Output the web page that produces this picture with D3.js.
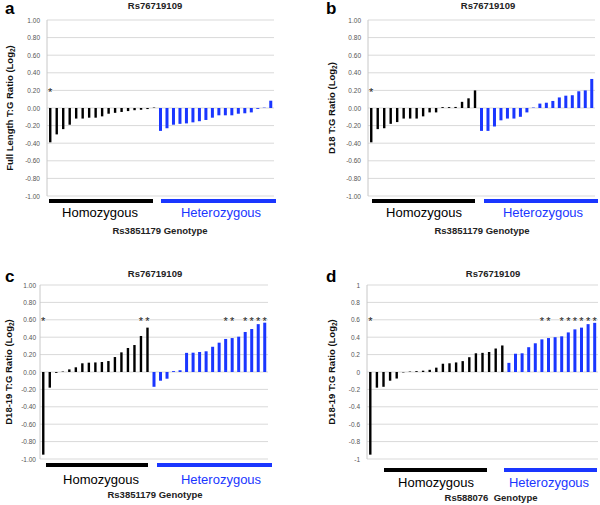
<!DOCTYPE html>
<html><head><meta charset="utf-8">
<script src="https://cdn.jsdelivr.net/npm/d3@7"></script>
<style>body{margin:0;background:#fff}svg{display:block}</style>
</head><body>
<script>
// ---------- data ----------
const chartTitle = "Rs76719109";
const tickValues = [1, 0.8, 0.6, 0.4, 0.2, 0, -0.2, -0.4, -0.6, -0.8, -1];
const tickLabelsFixed = ["1.00","0.80","0.60","0.40","0.20","0.00","-0.20","-0.40","-0.60","-0.80","-1.00"];
const tickLabelsShort = ["1","0.8","0.6","0.4","0.2","0","-0.2","-0.4","-0.6","-0.8","-1"];
const groupLabels = ["Homozygous", "Heterozygous"];

const aHomo   = [-0.39,-0.30,-0.24,-0.19,-0.12,-0.12,-0.11,-0.11,-0.095,-0.065,-0.055,-0.045,-0.035,-0.025,-0.02,-0.012,0.005];
const aHetero = [-0.26,-0.23,-0.19,-0.18,-0.175,-0.163,-0.15,-0.136,-0.11,-0.083,-0.083,-0.083,-0.065,-0.06,-0.05,-0.01,0.004,0.083];
const bHomo   = [-0.39,-0.24,-0.23,-0.18,-0.16,-0.12,-0.12,-0.12,-0.095,-0.05,-0.05,0.01,0.01,0.012,0.07,0.11,0.20];
const bHetero = [-0.26,-0.26,-0.21,-0.14,-0.12,-0.12,-0.10,-0.05,0.005,0.05,0.06,0.08,0.12,0.14,0.145,0.19,0.20,0.33];
const cHomo   = [-0.95,-0.18,-0.01,0.005,0.03,0.054,0.10,0.107,0.11,0.115,0.126,0.172,0.226,0.276,0.31,0.414,0.51];
const cHetero = [-0.17,-0.10,-0.077,0.01,0.02,0.22,0.222,0.23,0.238,0.29,0.337,0.38,0.39,0.406,0.46,0.494,0.55,0.567];
const dHomo   = [-0.95,-0.18,-0.17,-0.10,-0.075,-0.005,0.005,0.01,0.015,0.025,0.05,0.095,0.10,0.11,0.125,0.17,0.215,0.22,0.23,0.27,0.305];
const dHetero = [0.105,0.21,0.215,0.285,0.33,0.375,0.39,0.40,0.41,0.455,0.49,0.51,0.55,0.565];

const aStars = [0];
const bStars = [0];
const cStars = [0,15,16,28,29,31,32,33,34];
const dStars = [0,26,27,29,30,31,32,33,34];

const yLabels = ["Full Length T:G Ratio (Log", "D18 T:G Ratio (Log", "D18-19 T:G Ratio (Log", "D18-19 T:G Ratio (Log"];
const genotypeLabels = ["Rs3851179 Genotype", "Rs3851179 Genotype", "Rs3851179 Genotype", "Rs588076  Genotype"];
const panelLetters = ["a","b","c","d"];

// ---------- layout ----------
const BLACK = "#000000", BLUE = "#1a36ff";
const panels = [
  {letter:panelLetters[0], homo:aHomo, het:aHetero, stars:aStars, starVal:0.21, ticks:tickLabelsFixed, ylab:yLabels[0], geno:genotypeLabels[0],
   x0:47, x1:274, yTop:20, yBot:196, letterX:5, letterY:14, titleX:155, titleY:8.5, ylabX:10, tickGap:7,
   blk:[49,153], blu:[161,276], lineY:201, grpY:217, homX:100, hetX:221, genoX:160, genoY:234},
  {letter:panelLetters[1], homo:bHomo, het:bHetero, stars:bStars, starVal:0.21, ticks:tickLabelsFixed, ylab:yLabels[1], geno:genotypeLabels[1],
   x0:368, x1:595, yTop:20, yBot:196, letterX:326, letterY:14, titleX:488, titleY:8.5, ylabX:332, tickGap:7,
   blk:[372,475], blu:[484,598], lineY:201, grpY:217, homX:424, hetX:543, genoX:482, genoY:234},
  {letter:panelLetters[2], homo:cHomo, het:cHetero, stars:cStars, starVal:0.61, ticks:tickLabelsFixed, ylab:yLabels[2], geno:genotypeLabels[2],
   x0:40, x1:268, yTop:285, yBot:459, letterX:5, letterY:282, titleX:155, titleY:276.5, ylabX:9, tickGap:4,
   blk:[46,148], blu:[157,272], lineY:465, grpY:484, homX:101, hetX:221, genoX:155, genoY:498},
  {letter:panelLetters[3], homo:dHomo, het:dHetero, stars:dStars, starVal:0.61, ticks:tickLabelsShort, ylab:yLabels[3], geno:genotypeLabels[3],
   x0:367, x1:598, yTop:285, yBot:459, letterX:326, letterY:282, titleX:493, titleY:276.5, ylabX:332, tickGap:7,
   blk:[384,487], blu:[504,597], lineY:470, grpY:487, homX:436, hetX:549, genoX:491, genoY:501}
];

const svg = d3.select("body").append("svg").attr("width",600).attr("height",505)
  .style("font-family","'Liberation Sans', Arial, sans-serif");

panels.forEach(p => {
  const vals = p.homo.concat(p.het);
  const idx = d3.range(vals.length);
  const x = d3.scaleBand().domain(idx).range([p.x0, p.x1]).padding(0);
  const y = d3.scaleLinear().domain([-1, 1]).range([p.yBot, p.yTop]);
  const g = svg.append("g");

  // gridlines
  g.selectAll(".grid").data(tickValues).join("line")
    .attr("x1", p.x0).attr("x2", p.x1)
    .attr("y1", d => y(d)).attr("y2", d => y(d))
    .attr("stroke", "#d9d9d9").attr("stroke-width", 1);
  // axis line
  g.append("line").attr("x1", p.x0).attr("x2", p.x0).attr("y1", y(1)).attr("y2", y(-1))
    .attr("stroke", "#c8c8c8").attr("stroke-width", 1);
  // tick labels via axis
  const axis = d3.axisLeft(y).tickValues(tickValues).tickSize(0).tickPadding(p.tickGap)
    .tickFormat((d, i) => p.ticks[i]);
  const ag = g.append("g").attr("transform", `translate(${p.x0},0)`).call(axis);
  ag.select(".domain").remove();
  ag.selectAll("text").attr("fill", "#555").style("font-size", "6.5px")
    .style("font-family","'Liberation Sans', Arial, sans-serif");

  // bars
  const nH = p.homo.length;
  g.selectAll(".bar").data(vals).join("rect")
    .attr("x", (d, i) => x(i) + x.bandwidth()/2 - (i < nH ? 1.2 : 1.5))
    .attr("width", (d, i) => i < nH ? 2.4 : 3.0)
    .attr("y", d => y(Math.max(0, d)))
    .attr("height", d => Math.abs(y(d) - y(0)))
    .attr("fill", (d, i) => i < nH ? BLACK : BLUE);

  // stars
  g.selectAll(".star").data(p.stars).join("text")
    .attr("x", d => x(d) + x.bandwidth()/2)
    .attr("y", y(p.starVal) + 6)
    .attr("text-anchor", "middle").attr("fill", "#222").style("font-size", "11px")
    .text("*");

  // panel letter + title
  g.append("text").attr("x", p.letterX).attr("y", p.letterY).text(p.letter)
    .style("font-size", "17px").style("font-weight", "bold");
  g.append("text").attr("x", p.titleX).attr("y", p.titleY).attr("text-anchor", "middle")
    .text(chartTitle).style("font-size", "9.5px").style("font-weight", "bold").attr("fill", "#222");

  // y label
  const yl = g.append("text")
    .attr("transform", `translate(${p.ylabX},${(y(1)+y(-1))/2}) rotate(-90)`)
    .attr("text-anchor", "middle").attr("dy", "0.35em")
    .style("font-size", "9.5px").style("font-weight", "bold").attr("fill", "#111");
  yl.append("tspan").text(p.ylab);
  yl.append("tspan").text("2").attr("dy", "2").style("font-size", "6.5px");
  yl.append("tspan").text(")").attr("dy", "-2");

  // genotype group lines
  g.append("line").attr("x1", p.blk[0]).attr("x2", p.blk[1]).attr("y1", p.lineY).attr("y2", p.lineY)
    .attr("stroke", BLACK).attr("stroke-width", 4);
  g.append("line").attr("x1", p.blu[0]).attr("x2", p.blu[1]).attr("y1", p.lineY).attr("y2", p.lineY)
    .attr("stroke", BLUE).attr("stroke-width", 4);
  g.append("text").attr("x", p.homX).attr("y", p.grpY).attr("text-anchor", "middle")
    .text(groupLabels[0]).style("font-size", "13px").attr("fill", "#000");
  g.append("text").attr("x", p.hetX).attr("y", p.grpY).attr("text-anchor", "middle")
    .text(groupLabels[1]).style("font-size", "13px").attr("fill", BLUE);
  g.append("text").attr("x", p.genoX).attr("y", p.genoY).attr("text-anchor", "middle")
    .text(p.geno).style("font-size", "9.5px").style("font-weight", "bold").attr("fill", "#222")
    .style("white-space", "pre");
});
</script>
</body></html>
